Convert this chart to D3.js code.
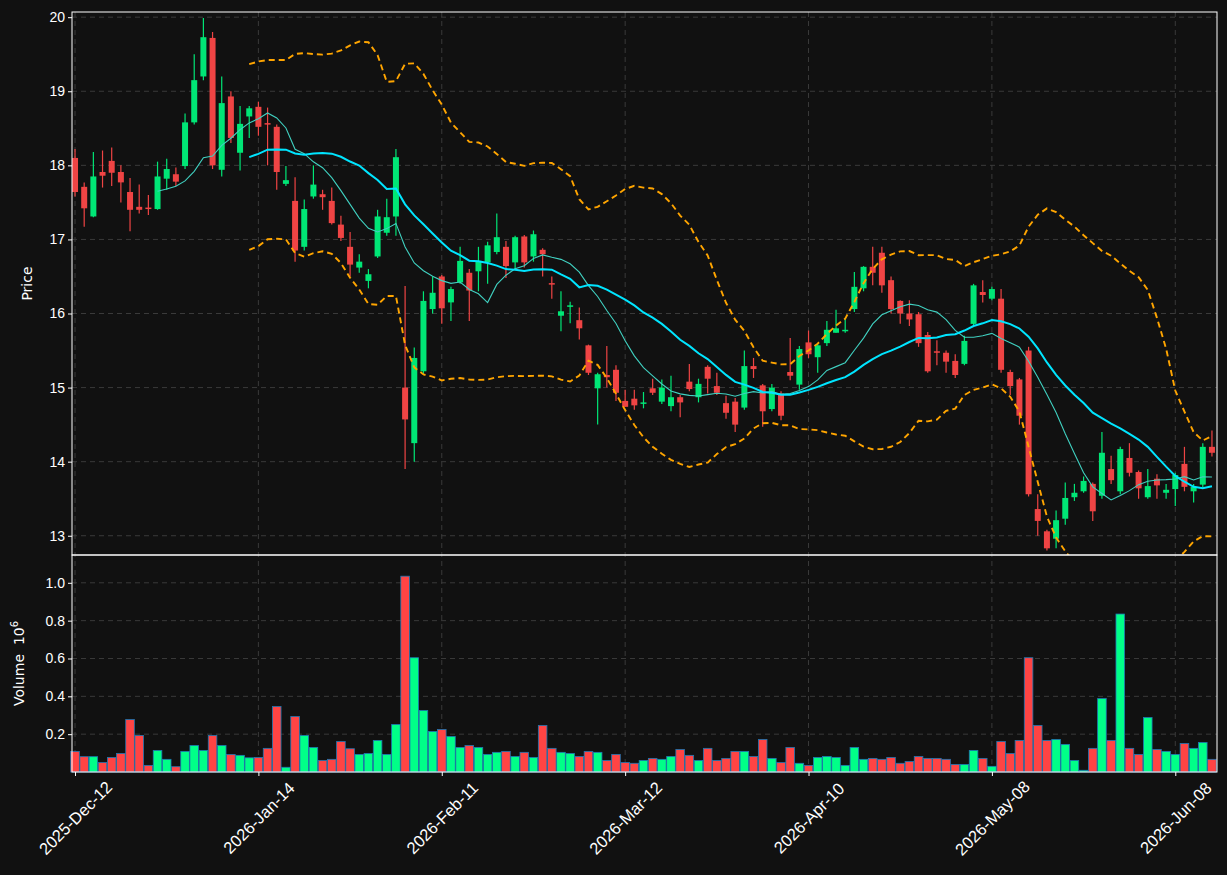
<!DOCTYPE html>
<html><head><meta charset="utf-8">
<script src="https://cdn.jsdelivr.net/npm/d3@7"></script>
<style>body{margin:0;background:#111111;}svg{display:block;font-family:"DejaVu Sans",sans-serif;}</style>
</head><body><svg id="c" width="1227" height="875"></svg>
<script>
const opens  = [18.10,17.71,17.31,17.91,18.06,17.91,17.64,17.44,17.43,17.41,17.82,17.88,17.99,18.58,19.20,19.72,17.94,18.93,18.17,18.66,18.79,18.57,18.52,17.75,17.52,16.90,17.58,17.61,17.52,17.20,16.90,16.62,16.44,16.77,17.09,17.31,15.00,14.25,15.22,16.06,16.50,16.15,16.42,16.55,16.57,16.69,16.83,16.90,16.69,17.04,16.77,16.86,16.41,15.97,16.09,15.91,15.57,14.99,15.17,15.24,14.82,14.85,14.78,14.99,14.81,14.75,14.87,15.08,14.87,15.28,15.02,14.79,14.81,14.73,15.29,15.03,14.71,14.92,15.21,15.04,15.61,15.41,15.60,15.74,15.76,16.06,16.34,16.63,16.82,16.45,16.17,16.00,15.99,15.71,15.49,15.47,15.36,15.32,15.86,16.29,16.20,16.20,15.21,15.11,15.50,13.36,13.06,12.96,13.23,13.52,13.60,13.70,13.54,13.90,13.60,14.05,13.86,13.52,13.77,13.58,13.63,13.97,13.60,13.69,14.20];
const closes = [17.64,17.42,17.85,17.86,17.90,17.77,17.40,17.40,17.41,17.85,17.95,17.78,18.58,19.15,19.73,18.00,18.84,18.37,18.56,18.77,18.52,18.55,17.91,17.80,16.85,17.41,17.74,17.57,17.22,17.02,16.66,16.70,16.53,17.31,17.30,18.11,14.57,15.40,16.17,16.28,16.07,16.33,16.71,16.31,16.71,16.92,17.03,16.64,17.03,16.69,17.07,16.80,16.39,16.03,16.11,15.80,15.20,15.18,15.14,14.93,14.74,14.76,14.80,14.93,15.00,14.87,14.80,14.98,15.05,15.12,14.93,14.66,14.50,15.29,15.25,14.68,15.00,14.62,15.16,15.52,15.45,15.57,15.78,15.80,15.78,16.36,16.63,16.55,16.38,16.06,16.00,15.92,15.60,15.22,15.47,15.35,15.17,15.63,16.38,16.25,16.33,15.24,15.02,14.62,13.56,13.20,12.83,13.21,13.51,13.58,13.74,13.33,14.12,13.75,14.17,13.85,13.64,13.67,13.68,13.62,13.82,13.66,13.66,14.20,14.12];
const highs  = [18.22,17.77,18.18,18.20,18.24,18.00,17.83,17.74,17.60,18.05,18.09,17.97,18.70,19.50,19.99,19.80,19.20,19.00,18.80,18.80,18.86,18.78,18.55,17.99,17.84,17.54,18.00,17.67,17.70,17.32,17.10,16.80,16.60,17.40,17.55,18.22,16.37,15.54,16.30,16.50,16.52,16.36,16.90,16.60,16.90,16.97,17.35,16.98,17.05,17.06,17.12,16.88,16.50,16.30,16.16,16.08,15.58,15.20,15.56,15.30,14.97,14.97,14.94,15.12,15.11,15.16,14.90,15.32,15.12,15.30,15.20,14.89,14.86,15.50,15.40,15.05,15.05,14.95,15.67,15.56,15.77,15.60,15.90,16.05,15.93,16.56,16.64,16.90,16.90,16.50,16.18,16.18,16.02,15.75,15.64,15.50,15.45,15.70,16.40,16.45,16.36,16.33,15.24,15.13,15.55,13.56,13.08,13.34,13.72,13.70,13.80,13.72,14.40,14.08,14.20,14.25,13.88,13.90,13.83,13.70,13.85,14.20,13.70,14.25,14.42];
const lows   = [17.58,17.17,17.30,17.70,17.72,17.50,17.11,17.35,17.33,17.40,17.67,17.72,17.95,18.55,19.15,17.95,17.85,18.30,17.93,18.37,18.40,18.00,17.67,17.72,16.70,16.85,17.55,17.40,17.20,16.98,16.50,16.55,16.34,16.75,17.05,17.05,13.90,14.00,15.18,16.00,15.86,15.90,16.40,15.90,16.30,16.40,16.80,16.48,16.60,16.62,16.70,16.50,16.20,15.76,15.87,15.65,15.17,14.50,15.00,14.82,14.74,14.70,14.72,14.90,14.78,14.68,14.60,14.95,14.80,14.92,14.90,14.58,14.40,14.70,15.13,14.47,14.68,14.56,15.10,14.97,15.40,15.20,15.56,15.74,15.74,16.02,16.30,16.38,16.28,16.00,15.86,15.83,15.55,15.20,15.30,15.20,15.13,15.30,15.84,16.15,16.18,15.20,14.90,14.50,13.53,13.00,12.80,12.83,13.15,13.47,13.58,13.20,13.50,13.70,13.56,13.80,13.50,13.50,13.50,13.50,13.40,13.60,13.45,13.65,14.07];
const volumes= [0.109,0.081,0.081,0.050,0.077,0.098,0.277,0.193,0.035,0.114,0.067,0.028,0.109,0.140,0.114,0.193,0.140,0.093,0.088,0.075,0.077,0.125,0.346,0.025,0.293,0.193,0.130,0.061,0.067,0.161,0.123,0.093,0.098,0.167,0.093,0.251,1.035,0.604,0.325,0.214,0.225,0.188,0.130,0.140,0.130,0.093,0.104,0.109,0.082,0.104,0.077,0.246,0.125,0.104,0.098,0.082,0.109,0.104,0.061,0.093,0.050,0.046,0.061,0.072,0.067,0.082,0.119,0.088,0.061,0.125,0.061,0.072,0.109,0.109,0.082,0.172,0.072,0.050,0.130,0.046,0.035,0.077,0.082,0.077,0.035,0.130,0.067,0.072,0.067,0.077,0.046,0.056,0.082,0.072,0.072,0.067,0.040,0.040,0.114,0.072,0.030,0.161,0.098,0.167,0.604,0.246,0.167,0.172,0.146,0.061,0.009,0.125,0.388,0.167,0.835,0.125,0.093,0.288,0.119,0.109,0.093,0.151,0.125,0.156,0.067];
const tickIdx = [0,20,40,60,80,100,120];
const tickLabels = ["2025-Dec-12","2026-Jan-14","2026-Feb-11","2026-Mar-12","2026-Apr-10","2026-May-08","2026-Jun-08"];
const priceTicks = [13,14,15,16,17,18,19,20];
const volTicks = [0.2,0.4,0.6,0.8,1.0];

const svg = d3.select("#c");
const L=72,R=1217,PT=12,PB=555,VB=772;
const n = closes.length;
const x = d3.scaleLinear().domain([-0.33,124.55]).range([L,R]);
const y = d3.scaleLinear().domain([12.74,20.07]).range([PB,PT]);
const yv = d3.scaleLinear().domain([0,1.147]).range([VB,PB]);
const UP="#00e676", DN="#ef4444", VUP="#00ff88", VDN="#ff4444";
const data = d3.range(n).map(i=>({i,o:opens[i],c:closes[i],h:highs[i],l:lows[i],v:volumes[i]}));

svg.append("defs").append("clipPath").attr("id","pc").append("rect").attr("x",L).attr("y",PT).attr("width",R-L).attr("height",PB-PT);
const grid = svg.append("g").attr("stroke","#3a3a3a").attr("stroke-dasharray","5,4").attr("stroke-width",1);
priceTicks.forEach(t=>grid.append("line").attr("x1",L).attr("x2",R).attr("y1",y(t)).attr("y2",y(t)));
volTicks.forEach(t=>grid.append("line").attr("x1",L).attr("x2",R).attr("y1",yv(t)).attr("y2",yv(t)));
tickIdx.forEach(t=>grid.append("line").attr("x1",x(t)).attr("x2",x(t)).attr("y1",PT).attr("y2",VB));

function sma(p){return data.map((d,i)=>i<p-1?null:d3.mean(closes.slice(i-p+1,i+1)));}
function sd(p){return data.map((d,i)=>i<p-1?null:d3.deviation(closes.slice(i-p+1,i+1))*Math.sqrt((p-1)/p));}
const ma10=sma(10), ma20=sma(20), s20=sd(20);
const up=ma20.map((m,i)=>m==null?null:m+2*s20[i]), lo=ma20.map((m,i)=>m==null?null:m-2*s20[i]);
const line=d3.line().defined(d=>d!=null).x((d,i)=>x(i)).y(d=>y(d));
const pg = svg.append("g").attr("clip-path","url(#pc)");

const cg = pg.append("g");
cg.selectAll("line").data(data).join("line").attr("x1",d=>x(d.i)).attr("x2",d=>x(d.i)).attr("y1",d=>y(d.h)).attr("y2",d=>y(d.l)).attr("stroke",d=>d.c>=d.o?UP:DN).attr("stroke-width",1.2);
cg.selectAll("rect").data(data).join("rect").attr("x",d=>x(d.i)-3).attr("width",6).attr("y",d=>y(Math.max(d.o,d.c))).attr("height",d=>Math.max(1.2,Math.abs(y(d.o)-y(d.c)))).attr("fill",d=>d.c>=d.o?UP:DN);

pg.append("path").attr("d",line(ma10)).attr("fill","none").attr("stroke","#40d0c0").attr("stroke-width",1.1);
pg.append("path").attr("d",line(ma20)).attr("fill","none").attr("stroke","#00e5ff").attr("stroke-width",2);
[up,lo].forEach(b=>pg.append("path").attr("d",line(b)).attr("fill","none").attr("stroke","#ffa500").attr("stroke-width",1.9).attr("stroke-dasharray","6,4"));

svg.append("g").selectAll("rect").data(data).join("rect").attr("x",d=>x(d.i)-4.3).attr("width",8.6).attr("y",d=>yv(d.v)).attr("height",d=>yv(0)-yv(d.v)).attr("fill",d=>d.c>=d.o?VUP:VDN).attr("stroke","#1f77b4").attr("stroke-width",0.8);

svg.append("rect").attr("x",L).attr("y",PT).attr("width",R-L).attr("height",PB-PT).attr("fill","none").attr("stroke","#ffffff");
svg.append("rect").attr("x",L).attr("y",PB).attr("width",R-L).attr("height",VB-PB).attr("fill","none").attr("stroke","#ffffff");

const ay=svg.append("g").attr("transform",`translate(${L},0)`).call(d3.axisLeft(y).tickValues(priceTicks).tickSize(4).tickFormat(d3.format("d")));
const av=svg.append("g").attr("transform",`translate(${L},0)`).call(d3.axisLeft(yv).tickValues(volTicks).tickSize(4).tickFormat(d3.format(".1f")));
const ax=svg.append("g").attr("transform",`translate(0,${VB})`).call(d3.axisBottom(x).tickValues(tickIdx).tickSize(4).tickFormat((d,i)=>tickLabels[i]));
[ay,av,ax].forEach(a=>{a.select(".domain").remove();a.selectAll("line").attr("stroke","#fff");a.selectAll("text").attr("fill","#fff").attr("font-size",14);});
ax.selectAll("text").attr("font-size",16.5).attr("text-anchor","middle").attr("y",0).attr("dy","0.35em").attr("transform","translate(0,46) rotate(-45)");
svg.append("text").attr("transform",`translate(32,${(PT+PB)/2}) rotate(-90)`).attr("text-anchor","middle").attr("fill","#fff").attr("font-size",14).text("Price");
const vt=svg.append("text").attr("transform",`translate(24,${(PB+VB)/2}) rotate(-90)`).attr("text-anchor","middle").attr("fill","#fff").attr("font-size",14).attr("xml:space","preserve");
vt.append("tspan").text("Volume  10");
vt.append("tspan").attr("dy",-6).attr("font-size",10).text("6");
</script></body></html>
